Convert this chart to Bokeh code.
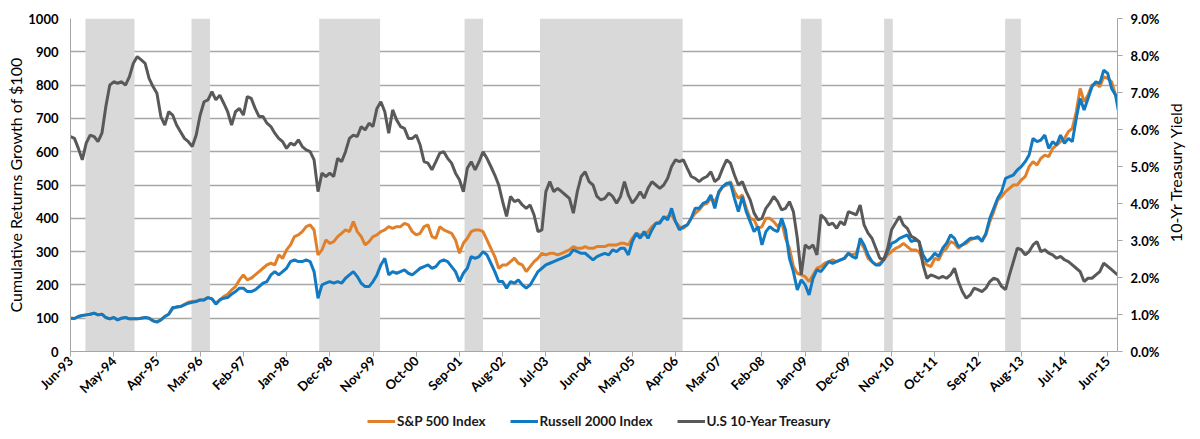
import math

from bokeh.core.properties import value
from bokeh.embed import file_html
from bokeh.layouts import column, row
from bokeh.models import (FixedTicker, Legend, LegendItem, LinearAxis,
                          PrintfTickFormatter, Range1d)
from bokeh.plotting import figure
from bokeh.resources import INLINE

# Month offsets from June 1993 (one observation per month)
months = list(range(268))

# Axis labels every 11 months
tick_months = [11 * i for i in range(25)]
tick_labels = ["Jun-93", "May-94", "Apr-95", "Mar-96", "Feb-97", "Jan-98",
               "Dec-98", "Nov-99", "Oct-00", "Sep-01", "Aug-02", "Jul-03",
               "Jun-04", "May-05", "Apr-06", "Mar-07", "Feb-08", "Jan-09",
               "Dec-09", "Nov-10", "Oct-11", "Sep-12", "Aug-13", "Jul-14",
               "Jun-15"]

# Shaded periods (month offsets)
shade_start = [3.8, 30.8, 63.3, 100.3, 119.5, 185.9, 207.1, 237.9]
shade_end = [16.3, 35.5, 78.8, 105.0, 155.8, 191.2, 209.3, 241.9]

# Cumulative growth of $100
sp500 = [
    100, 99, 105, 108, 110, 112, 115, 110, 112, 102, 98, 102, 95, 100, 102, 98,
    98, 98, 100, 102, 100, 92, 90, 95, 105, 112, 128, 135, 135, 142, 148, 150,
    152, 155, 155, 162, 158, 145, 155, 165, 172, 185, 195, 215, 230, 215, 220,
    230, 240, 250, 260, 265, 260, 290, 280, 305, 320, 345, 350, 360, 375, 380,
    365, 290, 305, 335, 325, 330, 345, 355, 365, 360, 390, 360, 345, 320, 330,
    345, 350, 360, 365, 375, 370, 375, 375, 385, 380, 360, 350, 355, 375, 380,
    345, 340, 375, 365, 360, 355, 335, 295, 325, 340, 360, 365, 365, 360, 335,
    310, 285, 250, 260, 260, 270, 280, 265, 260, 240, 255, 270, 280, 295, 290,
    295, 295, 290, 295, 300, 305, 315, 310, 310, 315, 310, 310, 315, 315, 315,
    320, 320, 320, 325, 325, 320, 340, 355, 350, 350, 360, 375, 385, 390, 400,
    405, 410, 390, 375, 370, 380, 400, 415, 425, 440, 445, 460, 450, 475, 495,
    500, 510, 480, 460, 470, 430, 400, 395, 370, 375, 400, 400, 390, 375, 390,
    340, 310, 255, 235, 230, 225, 210, 230, 250, 255, 265, 270, 275, 270, 275,
    280, 295, 290, 295, 330, 310, 280, 270, 260, 265, 275, 290, 300, 310, 315,
    325, 315, 305, 305, 300, 270, 260, 255, 280, 275, 300, 310, 330, 325, 310,
    320, 325, 335, 340, 340, 335, 350, 390, 420, 455, 465, 480, 490, 500, 500,
    515, 525, 555, 570, 560, 580, 590, 585, 610, 620, 630, 640, 660, 670, 720,
    790, 750, 770, 800, 805, 795, 825, 820, 810, 770, 745]

russell2000 = [
    100, 99, 105, 108, 110, 112, 115, 110, 112, 102, 98, 102, 95, 100, 102, 98,
    98, 98, 100, 102, 100, 92, 88, 95, 105, 112, 132, 133, 135, 140, 145, 148,
    150, 155, 155, 162, 158, 142, 155, 160, 162, 172, 180, 190, 190, 180, 180,
    185, 195, 205, 210, 230, 240, 230, 240, 250, 270, 275, 270, 270, 275, 270,
    240, 160, 200, 205, 210, 205, 210, 205, 220, 230, 240, 225, 205, 195, 195,
    210, 230, 260, 280, 230, 240, 235, 240, 245, 235, 230, 240, 250, 255, 260,
    250, 255, 270, 275, 270, 255, 240, 210, 235, 250, 285, 280, 285, 300, 290,
    265, 240, 210, 210, 190, 210, 205, 215, 200, 190, 200, 220, 240, 250, 260,
    265, 270, 275, 280, 285, 290, 305, 300, 295, 295, 285, 275, 285, 290, 295,
    290, 305, 300, 310, 310, 290, 330, 355, 340, 360, 340, 365, 385, 385, 405,
    395, 430, 390, 365, 375, 380, 400, 430, 430, 445, 450, 470, 430, 480, 495,
    505, 505, 460, 420, 465, 420, 390, 360, 375, 320, 360, 375, 365, 360, 400,
    365, 280, 240, 185, 215, 200, 170, 220, 245, 240, 255, 270, 265, 270, 275,
    280, 295, 285, 280, 340, 320, 290, 270, 260, 260, 275, 300, 325, 330, 340,
    345, 350, 330, 335, 330, 290, 270, 280, 295, 285, 310, 325, 350, 340, 315,
    320, 330, 340, 340, 345, 330, 355, 400, 430, 460, 480, 520, 525, 530, 545,
    555, 570, 590, 640, 630, 635, 650, 610, 630, 620, 650, 625, 640, 630, 700,
    760, 725, 760, 795, 810, 805, 845, 835, 790, 770, 705]

# U.S. 10-year Treasury yield, percent
treasury_10y = [
    5.81, 5.76, 5.49, 5.18, 5.63, 5.85, 5.81, 5.67, 5.90, 6.62, 7.20, 7.29,
    7.25, 7.29, 7.20, 7.43, 7.79, 7.97, 7.88, 7.79, 7.38, 7.16, 6.98, 6.35,
    6.12, 6.48, 6.39, 6.12, 5.94, 5.76, 5.67, 5.54, 5.85, 6.39, 6.75, 6.80,
    7.02, 6.80, 6.93, 6.71, 6.48, 6.12, 6.48, 6.57, 6.39, 6.89, 6.84, 6.57,
    6.35, 6.35, 6.17, 6.08, 5.90, 5.76, 5.67, 5.49, 5.63, 5.58, 5.72, 5.54,
    5.45, 5.40, 5.18, 4.32, 4.82, 4.73, 4.82, 4.73, 5.22, 5.13, 5.40, 5.76,
    5.85, 5.81, 6.08, 5.99, 6.17, 6.08, 6.57, 6.75, 6.48, 5.90, 6.53, 6.26,
    6.08, 6.03, 5.76, 5.76, 5.85, 5.58, 5.13, 5.09, 4.91, 5.13, 5.36, 5.40,
    5.22, 5.09, 4.82, 4.64, 4.32, 4.95, 5.13, 4.91, 5.13, 5.40, 5.22, 5.00,
    4.77, 4.50, 4.05, 3.65, 4.19, 4.05, 4.10, 3.96, 3.87, 3.96, 3.69, 3.24,
    3.29, 4.32, 4.59, 4.32, 4.41, 4.32, 4.23, 4.14, 3.74, 4.32, 4.73, 4.86,
    4.59, 4.50, 4.19, 4.10, 4.14, 4.28, 4.19, 4.01, 4.19, 4.59, 4.23, 4.01,
    4.14, 4.32, 4.14, 4.41, 4.59, 4.50, 4.41, 4.50, 4.68, 5.00, 5.18, 5.13,
    5.18, 4.95, 4.73, 4.68, 4.59, 4.68, 4.73, 4.86, 4.59, 4.68, 4.95, 5.18,
    5.09, 4.77, 4.50, 4.59, 4.32, 4.10, 3.74, 3.56, 3.60, 3.87, 4.01, 4.19,
    4.05, 3.83, 3.87, 4.05, 3.78, 3.06, 2.07, 2.88, 2.79, 2.88, 2.61, 3.69,
    3.60, 3.42, 3.47, 3.33, 3.51, 3.42, 3.78, 3.74, 3.69, 3.96, 3.42, 3.20,
    3.06, 2.79, 2.52, 2.48, 2.79, 3.29, 3.47, 3.65, 3.42, 3.33, 3.11, 3.06,
    2.97, 2.34, 1.98, 2.07, 2.03, 1.98, 2.03, 1.98, 2.07, 2.25, 1.89, 1.62,
    1.44, 1.53, 1.71, 1.67, 1.62, 1.71, 1.89, 1.98, 1.94, 1.76, 1.67, 2.07,
    2.43, 2.79, 2.75, 2.61, 2.70, 2.88, 2.97, 2.70, 2.75, 2.66, 2.61, 2.52,
    2.57, 2.48, 2.43, 2.34, 2.25, 2.16, 1.89, 1.98, 1.98, 2.07, 2.16, 2.39,
    2.30, 2.21, 2.12, 2.03]

series_names = ["S&P 500 Index", "Russell 2000 Index", "U.S 10-Year Treasury"]
series_colors = ["#e0802a", "#127ac2", "#595959"]
right_title = "10-Yr Treasury Yield"

FONT = "Lato"
AXIS_GRAY = "#a6a6a6"
CHART_H = 404

# ---- main chart -----------------------------------------------------------
p = figure(width=1162, height=CHART_H, output_backend="svg",
           toolbar_location=None,
           x_range=Range1d(0, 266.5), y_range=Range1d(0, 1000),
           min_border_left=70, min_border_right=44, min_border_top=18,
           min_border_bottom=52)
p.outline_line_color = None
p.background_fill_color = "white"
p.border_fill_color = "white"

p.xgrid.visible = False
p.ygrid.grid_line_color = AXIS_GRAY
p.ygrid.grid_line_width = 1.3

# Shaded periods
p.quad(left=shade_start, right=shade_end, bottom=0, top=1000,
       fill_color="#d9d9d9", line_color=None)

p.extra_y_ranges = {"yield": Range1d(0, 9)}

p.line(months, sp500, line_color=series_colors[0], line_width=3)
p.line(months, russell2000, line_color=series_colors[1], line_width=3)
p.line(months, treasury_10y, line_color=series_colors[2], line_width=3,
       y_range_name="yield")

# Bottom axis
xa = p.xaxis[0]
xa.ticker = FixedTicker(ticks=tick_months)
xa.major_label_overrides = {m: lab for m, lab in zip(tick_months, tick_labels)}
xa.major_label_orientation = math.pi / 4
xa.minor_tick_line_color = None
xa.major_tick_in = 0
xa.major_tick_out = 5
xa.major_label_standoff = 2
xa.axis_line_color = AXIS_GRAY
xa.major_tick_line_color = AXIS_GRAY

# Left axis
ya = p.yaxis[0]
ya.ticker = FixedTicker(ticks=list(range(0, 1001, 100)))
ya.minor_tick_line_color = None
ya.major_tick_in = 0
ya.major_tick_out = 0
ya.major_label_standoff = 12
ya.axis_line_color = AXIS_GRAY
ya.axis_label = "Cumulative Returns Growth of $100"
ya.axis_label_standoff = 0

# Right axis (yield scale)
yr = LinearAxis(y_range_name="yield",
                ticker=FixedTicker(ticks=list(range(10))),
                formatter=PrintfTickFormatter(format="%.1f%%"))
yr.minor_tick_line_color = None
yr.major_tick_in = 0
yr.major_tick_out = 5
yr.major_label_standoff = 8
yr.axis_line_color = AXIS_GRAY
yr.major_tick_line_color = AXIS_GRAY
p.add_layout(yr, "right")

for ax in (xa, ya, yr):
    ax.major_label_text_font = FONT
    ax.major_label_text_font_style = "bold"
    ax.major_label_text_font_size = "13px"
    ax.major_label_text_color = "black"
    ax.axis_label_text_font = FONT
    ax.axis_label_text_font_style = "normal"
    ax.axis_label_text_font_size = "16px"
    ax.axis_label_text_color = "black"

# ---- right-hand title strip, reading bottom to top -----------------------
rt = figure(width=38, height=CHART_H, output_backend="svg",
            toolbar_location=None, x_range=Range1d(0, 38),
            y_range=Range1d(CHART_H, 0), x_axis_type=None, y_axis_type=None,
            min_border=0)
rt.outline_line_color = None
rt.grid.visible = False
rt.text(x=[13], y=[186], text=[right_title], angle=math.pi / 2,
        text_align="center", text_baseline="middle",
        text_font=value(FONT), text_font_size="16px", text_color="black")

# ---- legend strip under the chart ----------------------------------------
leg = figure(width=1200, height=439 - CHART_H, output_backend="svg",
             toolbar_location=None, x_range=Range1d(0, 1),
             y_range=Range1d(0, 1), x_axis_type=None, y_axis_type=None,
             min_border=0)
leg.outline_line_color = None
leg.grid.visible = False

items = []
for name, color in zip(series_names, series_colors):
    # placeholder line kept outside the visible range; only its legend swatch shows
    r = leg.line([0, 1], [-5, -5], line_color=color, line_width=3)
    items.append(LegendItem(label=name, renderers=[r]))

legend = Legend(items=items, orientation="horizontal", location=(367, 8),
                border_line_color=None, background_fill_alpha=0,
                label_text_font=FONT, label_text_font_style="bold",
                label_text_font_size="13.5px", label_text_color="#1a1a1a",
                glyph_width=28, label_standoff=2, spacing=24,
                padding=0, margin=0)
leg.add_layout(legend, "center")

layout = column(row(p, rt, spacing=0), leg, spacing=0)
open("out.html", "w").write(file_html(layout, INLINE))
